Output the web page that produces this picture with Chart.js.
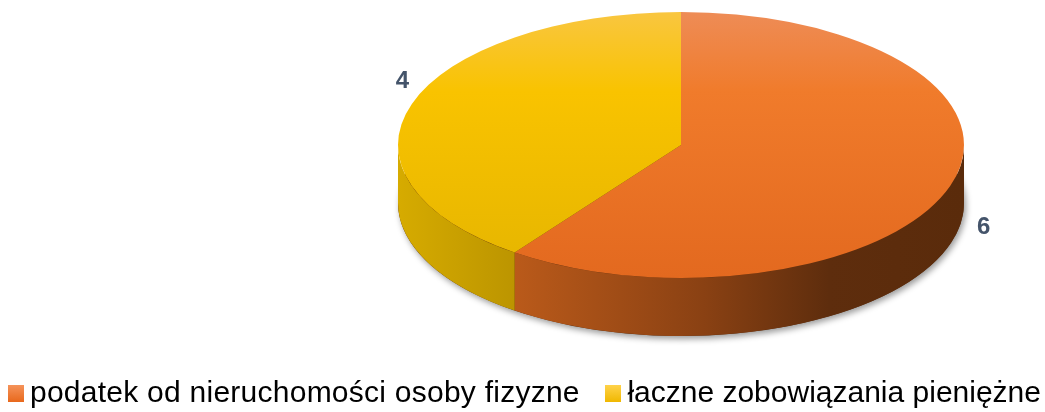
<!DOCTYPE html>
<html>
<head>
<meta charset="utf-8">
<script src="https://cdn.jsdelivr.net/npm/chart.js@4"></script>
<style>
  html, body { margin: 0; padding: 0; background: #fff; }
  #wrap { position: relative; width: 1045px; height: 412px; overflow: hidden; }
  #chart { position: absolute; left: 0; top: 0; }
  #legend {
    position: absolute; left: 8px; right: 4px; top: 375px;
    display: flex; justify-content: space-between;
    font-family: "Liberation Sans", Arial, sans-serif; font-size: 30px; color: #000;
  }
  .item { display: flex; align-items: center; white-space: nowrap; }
  .item:first-child span:last-child { letter-spacing: 0.25px; }
  .box { width: 16px; height: 17px; margin-right: 6px; margin-top: 3px; }
</style>
</head>
<body>
<div id="wrap">
  <canvas id="chart" width="1045" height="412"></canvas>
  <div id="legend"></div>
</div>
<script>
// data
const categories = ['podatek od nieruchomości osoby fizyzne', 'łaczne zobowiązania pieniężne'];
const values = [6, 4];

// styles
const topColors = [
    ['#EE8C56', '#F07B2B', '#E3691F'],
    ['#F9C640', '#F9C300', '#E5B500']
];
const sideColors = [
    [[0, '#BA5A1A'], [0.42, '#8A4113'], [0.7, '#5E2D0D'], [1, '#5A2B0B']],
    [[0, '#D6AB00'], [1, '#BC9500']]
];
const legendBoxes = [
    'linear-gradient(#F5935A, #E8681C)',
    'linear-gradient(#FFD24A, #F0B800)'
];
const STRETCH = 283 / 133;  // horizontal stretch of the top face
const DEPTH = 58;           // height of the side wall

// 3D look: side walls first, then let Chart.js draw the (stretched) top face
const pie3d = {
    id: 'pie3d',
    beforeDatasetsDraw(chart) {
        const ctx = chart.ctx;
        const arcs = chart.getDatasetMeta(0).data;
        const cx = arcs[0].x, cy = arcs[0].y, r = arcs[0].outerRadius;
        const rx = r * STRETCH, ry = r;

        // soft shadow under the body
        ctx.save();
        ctx.shadowColor = 'rgba(0,0,0,0.4)';
        ctx.shadowBlur = 6;
        ctx.shadowOffsetX = 2;
        ctx.shadowOffsetY = 3;
        ctx.beginPath();
        ctx.ellipse(cx, cy + DEPTH, rx, ry, 0, 0, Math.PI * 2);
        ctx.fillStyle = '#5A2B0B';
        ctx.fill();
        ctx.restore();

        arcs.forEach((arc, i) => {
            const a0 = Math.max(arc.startAngle, 0);
            const a1 = Math.min(arc.endAngle, Math.PI);
            if (a1 <= a0) return;
            const xl = cx + rx * Math.cos(a1), xr = cx + rx * Math.cos(a0);
            const g = ctx.createLinearGradient(xl, 0, xr, 0);
            sideColors[i].forEach(s => g.addColorStop(s[0], s[1]));
            ctx.beginPath();
            ctx.ellipse(cx, cy, rx, ry, 0, a0, a1);
            ctx.ellipse(cx, cy + DEPTH, rx, ry, 0, a1, a0, true);
            ctx.closePath();
            ctx.fillStyle = g;
            ctx.fill();
        });

        ctx.save();
        ctx.translate(cx, cy);
        ctx.scale(STRETCH, 1);
        ctx.translate(-cx, -cy);
    },
    afterDatasetsDraw(chart) {
        const ctx = chart.ctx;
        ctx.restore();

        // value labels outside the slices
        const arcs = chart.getDatasetMeta(0).data;
        ctx.save();
        ctx.font = 'bold 24px "Liberation Sans", Arial, sans-serif';
        ctx.fillStyle = '#44546A';
        ctx.textAlign = 'center';
        ctx.textBaseline = 'middle';
        arcs.forEach((arc, i) => {
            const m = (arc.startAngle + arc.endAngle) / 2;
            const rx = arc.outerRadius * STRETCH, ry = arc.outerRadius;
            const x = arc.x + 12 + 1.08 * rx * Math.cos(m);
            const y = arc.y + 1.78 * ry * Math.sin(m) + DEPTH / 6;
            ctx.fillText(String(values[i]), x, y);
        });
        ctx.restore();
    }
};

function faceGradient(c) {
    const i = c.dataIndex;
    const area = c.chart.chartArea;
    if (!area) return topColors[i][1];
    const g = c.chart.ctx.createLinearGradient(0, area.top, 0, area.bottom);
    g.addColorStop(0, topColors[i][0]);
    g.addColorStop(0.3, topColors[i][1]);
    g.addColorStop(1, topColors[i][2]);
    return g;
}

new Chart(document.getElementById('chart'), {
    type: 'pie',
    data: {
        labels: categories,
        datasets: [{
            data: values,
            backgroundColor: faceGradient,
            borderWidth: 0,
            hoverOffset: 0
        }]
    },
    options: {
        responsive: false,
        animation: false,
        events: [],
        layout: { padding: { left: 548, right: 231, top: 12, bottom: 134 } },
        plugins: {
            legend: { display: false },
            tooltip: { enabled: false }
        }
    },
    plugins: [pie3d]
});

// legend
const legend = document.getElementById('legend');
categories.forEach((name, i) => {
    const item = document.createElement('div');
    item.className = 'item';
    const box = document.createElement('span');
    box.className = 'box';
    box.style.background = legendBoxes[i];
    const txt = document.createElement('span');
    txt.textContent = name;
    item.appendChild(box);
    item.appendChild(txt);
    legend.appendChild(item);
});
</script>
</body>
</html>
